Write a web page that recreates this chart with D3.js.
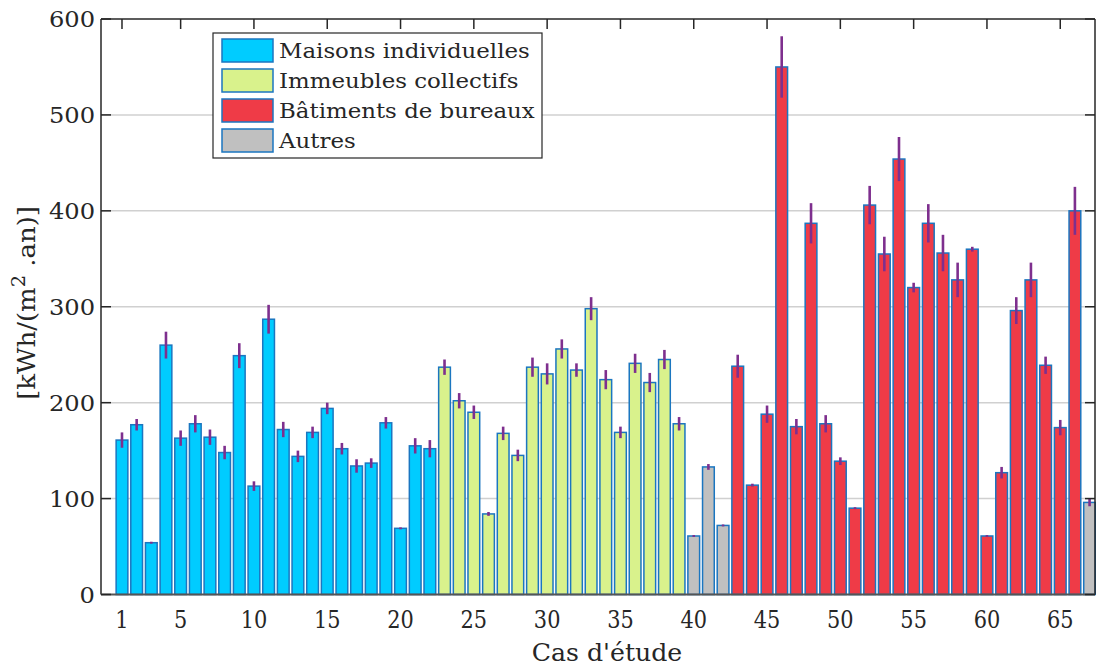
<!DOCTYPE html>
<html>
<head>
<meta charset="utf-8">
<script src="https://cdn.jsdelivr.net/npm/d3@7"></script>
<style>
  html, body { margin: 0; padding: 0; background: #fff; }
  svg { display: block; }
  text { font-family: "DejaVu Serif", serif; fill: #262626; }
</style>
</head>
<body>
<svg id="chart" width="1096" height="666"></svg>
<script>
// ---- Data ----
const cases = d3.range(1, 68);
const values = [
  161, 177, 54, 260, 163, 178, 164, 148, 249, 113,
  287, 172, 144, 169, 194, 152, 134, 137, 179, 69,
  155, 152, 237, 202, 190, 84, 168, 145, 237, 230,
  256, 234, 298, 224, 169, 241, 221, 245, 178, 61,
  133, 72, 238, 114, 188, 550, 175, 387, 178, 139,
  90, 406, 355, 454, 320, 387, 356, 328, 360, 61,
  127, 296, 328, 239, 174, 400, 96
];
const errors = [
  8, 6, 1, 14, 8, 9, 8, 7, 13, 5,
  15, 8, 6, 6, 6, 6, 7, 5, 6, 1,
  8, 9, 8, 8, 7, 2, 7, 6, 10, 11,
  10, 7, 12, 10, 6, 10, 10, 10, 7, 1,
  3, 1, 12, 1.5, 9, 32, 8, 21, 9, 4,
  1, 20, 18, 23, 5, 20, 19, 18, 2.5, 1,
  6, 14, 18, 9, 8, 25, 4
];
const groupNames = ["Maisons individuelles", "Immeubles collectifs", "Bâtiments de bureaux", "Autres"];
const groupColors = ["#00CCFF", "#D9F28C", "#EF3B47", "#C0C0C0"];
// group index for each case
const caseGroup = [
  0,0,0,0,0,0,0,0,0,0,0,0,0,0,0,0,0,0,0,0,0,0,
  1,1,1,1,1,1,1,1,1,1,1,1,1,1,1,1,1,
  3,3,3,
  2,2,2,2,2,2,2,2,2,2,2,2,2,2,2,2,2,2,2,2,2,2,2,2,
  3
];
const xTicks = [1, 5, 10, 15, 20, 25, 30, 35, 40, 45, 50, 55, 60, 65];
const yTicks = [0, 100, 200, 300, 400, 500, 600];

// ---- Layout ----
const svg = d3.select("#chart");
const pLeft = 101, pRight = 1095, pTop = 19, pBottom = 594.5;
const x = d3.scaleLinear().domain([-0.432, 67.37]).range([pLeft, pRight]);
const y = d3.scaleLinear().domain([0, 600]).range([pBottom, pTop]);
const step = x(2) - x(1);
const barW = step * 0.8;
const axisColor = "#262626";
const edgeColor = "#1b76c0";

// gridlines
svg.append("g").selectAll("line").data(yTicks.filter(d => d > 0 && d < 600)).join("line")
  .attr("x1", pLeft).attr("x2", pRight)
  .attr("y1", d => y(d)).attr("y2", d => y(d))
  .attr("stroke", "#d0d0d0").attr("stroke-width", 1.5);

// bars
const data = cases.map((c, i) => ({ c, v: values[i], e: errors[i], g: caseGroup[i] }));
svg.append("g").selectAll("rect").data(data).join("rect")
  .attr("x", d => x(d.c) - barW / 2)
  .attr("y", d => y(d.v))
  .attr("width", barW)
  .attr("height", d => y(0) - y(d.v))
  .attr("fill", d => groupColors[d.g])
  .attr("stroke", edgeColor).attr("stroke-width", 1.5);

// error bars
svg.append("g").selectAll("line").data(data).join("line")
  .attr("x1", d => x(d.c)).attr("x2", d => x(d.c))
  .attr("y1", d => y(d.v - d.e)).attr("y2", d => y(d.v + d.e))
  .attr("stroke", "#7E2F8E").attr("stroke-width", 2.6);

// axes box
const axG = svg.append("g");
axG.append("line").attr("x1", pLeft).attr("x2", pLeft).attr("y1", pTop).attr("y2", pBottom)
  .attr("stroke", axisColor).attr("stroke-width", 1.5);
axG.append("line").attr("x1", pLeft).attr("x2", pRight).attr("y1", pTop).attr("y2", pTop)
  .attr("stroke", axisColor).attr("stroke-width", 1.5);
axG.append("line").attr("x1", pRight).attr("x2", pRight).attr("y1", pTop).attr("y2", pBottom)
  .attr("stroke", axisColor).attr("stroke-width", 1.5);
axG.append("line").attr("x1", pLeft).attr("x2", pRight).attr("y1", pBottom).attr("y2", pBottom)
  .attr("stroke", "#555").attr("stroke-width", 2);

// y ticks (left inward, right inward)
axG.append("g").selectAll("line").data(yTicks).join("line")
  .attr("x1", pLeft).attr("x2", pLeft + 10).attr("y1", d => y(d)).attr("y2", d => y(d))
  .attr("stroke", axisColor).attr("stroke-width", 1.5);
axG.append("g").selectAll("line").data(yTicks).join("line")
  .attr("x1", pRight - 10).attr("x2", pRight).attr("y1", d => y(d)).attr("y2", d => y(d))
  .attr("stroke", axisColor).attr("stroke-width", 1.5);
// x ticks on top, inward
axG.append("g").selectAll("line").data(xTicks).join("line")
  .attr("x1", d => x(d)).attr("x2", d => x(d)).attr("y1", pTop).attr("y2", pTop + 10)
  .attr("stroke", axisColor).attr("stroke-width", 1.5);

// y tick labels
svg.append("g").selectAll("text").data(yTicks).join("text")
  .attr("transform", d => `translate(95,${y(d)}) scale(1.05,1)`)
  .attr("dy", "0.36em")
  .attr("text-anchor", "end")
  .attr("font-size", 23)
  .text(d => d);

// x tick labels
svg.append("g").selectAll("text").data(xTicks).join("text")
  .attr("transform", d => `translate(${x(d)},628) scale(0.87,1)`)
  .attr("text-anchor", "middle")
  .attr("font-size", 24)
  .text(d => d);

// axis titles
svg.append("text")
  .attr("transform", "translate(607,661) scale(1.05,1)")
  .attr("text-anchor", "middle")
  .attr("font-size", 24)
  .text("Cas d'étude");

const yl = svg.append("text")
  .attr("transform", "translate(35,303) rotate(-90) scale(1.08,1)")
  .attr("text-anchor", "middle")
  .attr("font-size", 24);
yl.append("tspan").text("[kWh/(m");
yl.append("tspan").attr("baseline-shift", "super").attr("font-size", 18).text("2");
yl.append("tspan").text(" .an)]");

// legend
const lg = svg.append("g");
lg.append("rect").attr("x", 213).attr("y", 33).attr("width", 329).attr("height", 125)
  .attr("fill", "#fff").attr("stroke", axisColor).attr("stroke-width", 1.2);
const rows = lg.selectAll("g.row").data(groupNames).join("g")
  .attr("transform", (d, i) => `translate(0,${39 + i * 30})`);
rows.append("rect").attr("x", 222).attr("y", 0).attr("width", 51).attr("height", 23)
  .attr("fill", (d, i) => groupColors[i]).attr("stroke", edgeColor).attr("stroke-width", 1.5);
rows.append("text")
  .attr("transform", "translate(279,11.5) scale(1.09,1)")
  .attr("dy", "0.36em")
  .attr("font-size", 21).text(d => d);
</script>
</body>
</html>
